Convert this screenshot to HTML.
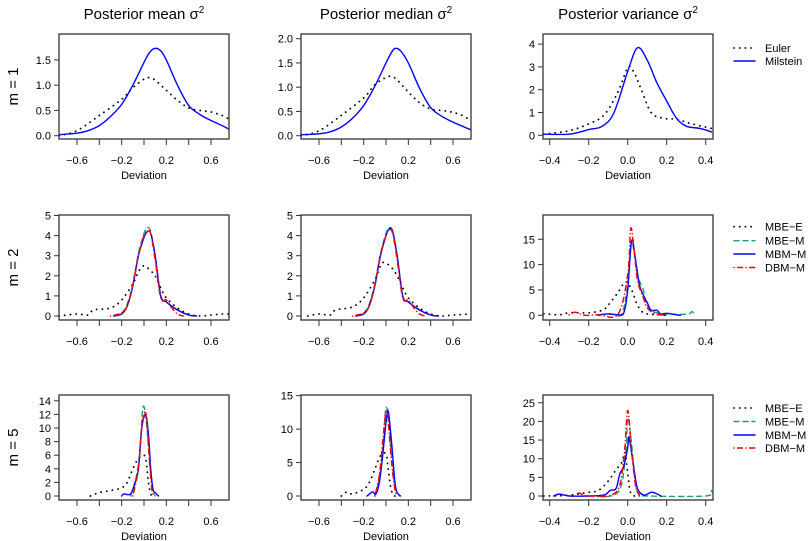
<!DOCTYPE html>
<html><head><meta charset="utf-8">
<style>
html,body{margin:0;padding:0;background:#fff;}
svg{display:block;font-family:"Liberation Sans",Arial,sans-serif;}
</style></head>
<body>
<svg id="chart" width="810" height="541" viewBox="0 0 810 541" xmlns="http://www.w3.org/2000/svg">
<defs>
<clipPath id="c0"><rect x="59" y="34" width="170" height="105"/></clipPath>
<clipPath id="c1"><rect x="301" y="34" width="170" height="105"/></clipPath>
<clipPath id="c2"><rect x="543" y="34" width="170" height="105"/></clipPath>
<clipPath id="c3"><rect x="59" y="215" width="170" height="105"/></clipPath>
<clipPath id="c4"><rect x="301" y="215" width="170" height="105"/></clipPath>
<clipPath id="c5"><rect x="543" y="215" width="170" height="105"/></clipPath>
<clipPath id="c6"><rect x="59" y="395" width="170" height="105"/></clipPath>
<clipPath id="c7"><rect x="301" y="395" width="170" height="105"/></clipPath>
<clipPath id="c8"><rect x="543" y="395" width="170" height="105"/></clipPath>
</defs>
</svg>
<script>
// ---- data ----
const columnTitles = ["Posterior mean σ", "Posterior median σ", "Posterior variance σ"];
const rowLabels = ["m = 1", "m = 2", "m = 5"];
const legend1 = ["Euler", "Milstein"];
const legend2 = ["MBE\u2212E", "MBE\u2212M", "MBM\u2212M", "DBM\u2212M"];
const xTicksWide = [-0.6, -0.4, -0.2, 0, 0.2, 0.4, 0.6];
const xLabelsWide = [-0.6, -0.2, 0.2, 0.6];
const xTicksNarrow = [-0.4, -0.2, 0, 0.2, 0.4];
const yTicks = [[0,0.5,1,1.5],[0,0.5,1,1.5,2],[0,1,2,3,4],[0,1,2,3,4,5],[0,1,2,3,4,5],[0,5,10,15],[0,2,4,6,8,10,12,14],[0,5,10,15],[0,5,10,15,20,25]];

// panel 0: mean m=1
const p0EulerX = [-0.76,-0.6,-0.4,-0.2,-0.1,0,0.05,0.1,0.2,0.3,0.4,0.5,0.6,0.7,0.76];
const p0EulerY = [0,0.1,0.4,0.72,0.95,1.12,1.15,1.1,0.9,0.7,0.55,0.5,0.47,0.4,0.33];
const p0MilX = [-0.76,-0.6,-0.5,-0.4,-0.3,-0.2,-0.1,0,0.05,0.1,0.15,0.2,0.3,0.4,0.5,0.6,0.7,0.76];
const p0MilY = [0.02,0.05,0.1,0.2,0.38,0.62,1.0,1.45,1.65,1.73,1.68,1.5,1.0,0.6,0.42,0.3,0.2,0.13];
// panel 1: median m=1
const p1EulerX = [-0.76,-0.6,-0.4,-0.2,-0.1,0,0.05,0.1,0.2,0.3,0.4,0.5,0.6,0.7,0.76];
const p1EulerY = [0,0.1,0.42,0.78,1.05,1.2,1.22,1.15,0.9,0.68,0.55,0.52,0.48,0.4,0.3];
const p1MilX = [-0.76,-0.6,-0.5,-0.4,-0.3,-0.2,-0.1,0,0.05,0.08,0.13,0.2,0.3,0.4,0.5,0.6,0.7,0.76];
const p1MilY = [0.02,0.04,0.08,0.18,0.36,0.62,1.02,1.5,1.72,1.8,1.75,1.5,0.98,0.58,0.4,0.28,0.18,0.12];
// panel 2: variance m=1
const p2EulerX = [-0.43,-0.3,-0.2,-0.12,-0.05,0,0.03,0.07,0.12,0.18,0.25,0.33,0.43];
const p2EulerY = [0.05,0.2,0.5,0.9,1.9,2.96,2.8,2.0,1.0,0.75,0.7,0.5,0.3];
const p2MilX = [-0.43,-0.3,-0.2,-0.13,-0.07,0,0.05,0.1,0.15,0.2,0.25,0.3,0.37,0.43];
const p2MilY = [0.05,0.05,0.25,0.4,1.0,2.8,3.84,3.3,2.3,1.5,0.75,0.4,0.3,0.15];
// panel 3: mean m=2
const p3MbeEX = [-0.76,-0.6,-0.5,-0.45,-0.3,-0.2,-0.1,-0.05,0,0.05,0.1,0.15,0.2,0.3,0.4,0.5,0.6,0.7,0.76];
const p3MbeEY = [0,0.1,0.05,0.3,0.4,0.8,1.6,2.2,2.5,2.3,2.0,1.4,0.9,0.4,0.1,0,0.05,0.1,0.1];
const p3MbeMX = [-0.27,-0.2,-0.15,-0.1,-0.05,0,0.03,0.06,0.1,0.15,0.2,0.3,0.4,0.47];
const p3MbeMY = [0,0.15,0.6,1.6,3.1,4.1,4.4,4.2,3.0,1.0,0.7,0.3,0.05,0];
const p3MbmMX = [-0.27,-0.2,-0.15,-0.1,-0.05,0,0.03,0.06,0.1,0.15,0.2,0.3,0.4,0.47];
const p3MbmMY = [0,0.1,0.5,1.5,3.0,3.9,4.2,4.1,3.0,1.0,0.7,0.3,0.05,0];
const p3DbmMX = [-0.3,-0.2,-0.15,-0.1,-0.05,0,0.03,0.06,0.1,0.15,0.2,0.25,0.3,0.35];
const p3DbmMY = [0,0.15,0.5,1.5,3.0,4.0,4.2,4.1,2.8,0.9,0.8,0.4,0.1,0];
// panel 4: median m=2
const p4MbeEX = [-0.7,-0.6,-0.5,-0.45,-0.3,-0.2,-0.1,-0.03,0.05,0.1,0.15,0.2,0.3,0.4,0.5,0.6,0.7,0.76];
const p4MbeEY = [0,0.1,0.05,0.3,0.45,0.9,1.8,2.65,2.4,2.0,1.4,0.9,0.4,0.1,0,0.05,0.08,0.1];
const p4MbeMX = [-0.27,-0.2,-0.15,-0.1,-0.05,0,0.03,0.06,0.1,0.15,0.2,0.3,0.4,0.47];
const p4MbeMY = [0,0.15,0.6,1.6,3.1,4.1,4.4,4.2,3.0,1.0,0.7,0.3,0.05,0];
const p4MbmMX = [-0.27,-0.2,-0.15,-0.1,-0.05,0,0.03,0.06,0.1,0.15,0.2,0.3,0.4,0.47];
const p4MbmMY = [0,0.1,0.5,1.5,3.0,4.0,4.35,4.2,3.0,1.0,0.7,0.3,0.05,0];
const p4DbmMX = [-0.3,-0.2,-0.15,-0.1,-0.05,0,0.03,0.06,0.1,0.15,0.2,0.25,0.3,0.35];
const p4DbmMY = [0,0.15,0.5,1.5,3.0,4.0,4.3,4.1,2.8,0.9,0.8,0.4,0.1,0];
// panel 5: variance m=2
const p5MbeEX = [-0.43,-0.35,-0.3,-0.2,-0.13,-0.1,-0.05,-0.01,0.02,0.05,0.08,0.12,0.2];
const p5MbeEY = [0.3,0.1,0.5,0.5,1.0,2,4.5,6.6,5,2,0.5,0.2,0];
const p5MbeMX = [-0.14,-0.08,-0.03,0,0.02,0.05,0.08,0.1,0.15,0.3,0.33,0.35];
const p5MbeMY = [0.2,0.2,0.3,6,14.5,8,5,2,0.5,0.2,0.7,0];
const p5MbmMX = [-0.15,-0.1,-0.05,-0.02,0,0.02,0.04,0.06,0.08,0.1,0.12,0.15,0.17,0.2,0.25,0.27];
const p5MbmMY = [0,0.3,0.1,0.5,5,14.7,11,6,4,2.5,1,1,0.2,0.4,0.1,0];
const p5DbmMX = [-0.3,-0.27,-0.22,-0.15,-0.05,0,0.015,0.03,0.05,0.08,0.1,0.14,0.2];
const p5DbmMY = [0.1,0.6,0,0.1,0.2,8,17,14,7,3.5,1.5,0.3,0];
// panel 6: mean m=5
const p6MbeEX = [-0.48,-0.4,-0.3,-0.2,-0.15,-0.1,-0.05,0,0.02,0.04,0.06,0.08];
const p6MbeEY = [0,0.5,0.8,1.2,2,4,5.5,6,5,2,0.3,0];
const p6MbeMX = [-0.12,-0.08,-0.04,-0.01,0.02,0.05,0.08,0.1];
const p6MbeMY = [0,2,6,13,11,5,1,0];
const p6MbmMX = [-0.2,-0.18,-0.12,-0.08,-0.05,-0.02,0.015,0.04,0.06,0.08,0.1,0.13];
const p6MbmMY = [0,0.3,0.3,2,4,10,12,9,4,1,0.5,0];
const p6DbmMX = [-0.1,-0.05,-0.02,0.01,0.03,0.05,0.07,0.09];
const p6DbmMY = [0,4,10,12.5,10,5,1,0];
// panel 7: median m=5
const p7MbeEX = [-0.4,-0.35,-0.3,-0.2,-0.15,-0.1,-0.05,0,0.02,0.04,0.06,0.08];
const p7MbeEY = [0,0.6,0.3,1.0,2,4,6,6.3,4,1.5,0.3,0];
const p7MbeMX = [-0.1,-0.07,-0.03,0,0.03,0.06,0.09,0.12];
const p7MbeMY = [0,2,7,13.2,10,4,1,0];
const p7MbmMX = [-0.17,-0.12,-0.09,-0.06,-0.03,0,0.02,0.05,0.08,0.1,0.13];
const p7MbmMY = [0,0.6,0.3,2,6,11,12.7,8,2,0.5,0];
const p7DbmMX = [-0.1,-0.06,-0.03,0,0.02,0.05,0.08,0.1];
const p7DbmMY = [0,3,8,12.6,11,5,1,0];
// panel 8: variance m=5
const p8MbeEX = [-0.43,-0.3,-0.2,-0.15,-0.1,-0.06,-0.03,-0.014,0,0.01,0.02,0.04];
const p8MbeEY = [0,0.2,1,1.5,4,7,9,11.6,6,2,0.3,0];
const p8MbeMX = [-0.2,-0.05,-0.01,0,0.02,0.04,0.06,0.1,0.4,0.43];
const p8MbeMY = [0,1,12,21,14,3,0.5,0,0,1.5];
const p8MbmMX = [-0.38,-0.35,-0.3,-0.2,-0.12,-0.09,-0.06,-0.04,-0.02,0,0.007,0.03,0.05,0.08,0.1,0.12,0.14,0.16,0.17];
const p8MbmMY = [0,0.5,0,0,0.3,1.5,2,6,8,13,15.7,8,2,0.3,0.5,1.0,0.8,0.3,0];
const p8DbmMX = [-0.27,-0.25,-0.2,-0.06,-0.02,0,0.02,0.04,0.06];
const p8DbmMY = [0,0.8,0,1,10,22.9,12,3,0];

// ---- layout ----
const svg = document.getElementById('chart');
const NS = 'http://www.w3.org/2000/svg';
const colLeft = [59, 301, 543], rowTop = [34, 215, 395];
const W = 170, H = 105;
const panelY0 = [135.7,135.7,135.3,316,316,315.3,496,496,496];
const panelPPU = [50.5,48.5,22.8,20.1,20.1,5.07,6.8,6.69,3.73];
const COLORS = {k:'#000', g:'#1f9e74', b:'#0000ff', r:'#ff0000'};
const DASH = {k:'0.1 5.6', g:'5 4', b:'', r:'0.1 3.5 5 3.5'};
const WIDTH = {k:1.8, g:1.4, b:1.4, r:1.5};

function el(tag, attrs, parent) {
  const e = document.createElementNS(NS, tag);
  for (const k in attrs) e.setAttribute(k, attrs[k]);
  (parent || svg).appendChild(e);
  return e;
}
function fmt(v) { return (v < 0 ? '\u2212' : '') + Math.abs(v).toFixed(1); }
function smoothPath(pts) {
  let d = 'M' + pts[0][0].toFixed(2) + ',' + pts[0][1].toFixed(2);
  for (let i = 0; i < pts.length - 1; i++) {
    const p0 = pts[Math.max(0, i - 1)], p1 = pts[i], p2 = pts[i + 1], p3 = pts[Math.min(pts.length - 1, i + 2)];
    const c1x = p1[0] + (p2[0] - p0[0]) / 6, c1y = p1[1] + (p2[1] - p0[1]) / 6;
    const c2x = p2[0] - (p3[0] - p1[0]) / 6, c2y = p2[1] - (p3[1] - p1[1]) / 6;
    d += 'C' + c1x.toFixed(2) + ',' + c1y.toFixed(2) + ' ' + c2x.toFixed(2) + ',' + c2y.toFixed(2) + ' ' + p2[0].toFixed(2) + ',' + p2[1].toFixed(2);
  }
  return d;
}

const seriesByPanel = [
  [[p0EulerX,p0EulerY,'k','euler'],[p0MilX,p0MilY,'b','milstein']],
  [[p1EulerX,p1EulerY,'k','euler'],[p1MilX,p1MilY,'b','milstein']],
  [[p2EulerX,p2EulerY,'k','euler'],[p2MilX,p2MilY,'b','milstein']],
  [[p3MbeEX,p3MbeEY,'k','mbe-e'],[p3MbeMX,p3MbeMY,'g','mbe-m'],[p3MbmMX,p3MbmMY,'b','mbm-m'],[p3DbmMX,p3DbmMY,'r','dbm-m']],
  [[p4MbeEX,p4MbeEY,'k','mbe-e'],[p4MbeMX,p4MbeMY,'g','mbe-m'],[p4MbmMX,p4MbmMY,'b','mbm-m'],[p4DbmMX,p4DbmMY,'r','dbm-m']],
  [[p5MbeEX,p5MbeEY,'k','mbe-e'],[p5MbeMX,p5MbeMY,'g','mbe-m'],[p5MbmMX,p5MbmMY,'b','mbm-m'],[p5DbmMX,p5DbmMY,'r','dbm-m']],
  [[p6MbeEX,p6MbeEY,'k','mbe-e'],[p6MbeMX,p6MbeMY,'g','mbe-m'],[p6MbmMX,p6MbmMY,'b','mbm-m'],[p6DbmMX,p6DbmMY,'r','dbm-m']],
  [[p7MbeEX,p7MbeEY,'k','mbe-e'],[p7MbeMX,p7MbeMY,'g','mbe-m'],[p7MbmMX,p7MbmMY,'b','mbm-m'],[p7DbmMX,p7DbmMY,'r','dbm-m']],
  [[p8MbeEX,p8MbeEY,'k','mbe-e'],[p8MbeMX,p8MbeMY,'g','mbe-m'],[p8MbmMX,p8MbmMY,'b','mbm-m'],[p8DbmMX,p8DbmMY,'r','dbm-m']]
];

columnTitles.forEach((t, c) => {
  const tx = el('text', {x: colLeft[c] + W / 2, y: 19, 'text-anchor': 'middle', 'font-size': 15, fill: '#000'});
  
  
  tx.appendChild(document.createTextNode(t));
  const sup = el('tspan', {dy: -6, 'font-size': 10}, tx);
  sup.textContent = '2';
});
rowLabels.forEach((t, r) => {
  const cy = rowTop[r] + H / 2;
  const tx = el('text', {x: 14, y: cy, 'text-anchor': 'middle', 'font-size': 15, fill: '#000', transform: 'rotate(-90 14 ' + cy + ')', 'dominant-baseline': 'middle'});
  
  
  tx.textContent = t;
});

for (let p = 0; p < 9; p++) {
  const r = Math.floor(p / 3), c = p % 3;
  const L = colLeft[c], T = rowTop[r];
  const narrow = c === 2;
  const x0 = narrow ? L + 84.7 : L + 85, xppu = narrow ? 195 : 111.7;
  const X = v => x0 + v * xppu;
  const Y = v => panelY0[p] - v * panelPPU[p];
  const g = el('g', {});
  
  
  const sg = el('g', {'clip-path': 'url(#c' + p + ')'}, g);
  seriesByPanel[p].forEach(s => {
    const pts = s[0].map((xv, i) => [X(xv), Y(s[1][i])]);
    const path = el('path', {d: smoothPath(pts), fill: 'none', stroke: COLORS[s[2]], 'stroke-width': WIDTH[s[2]], 'stroke-dasharray': DASH[s[2]], 'stroke-linecap': 'round'}, sg);
    
    
  });
  const box = el('rect', {x: L, y: T, width: W, height: H, fill: 'none', stroke: '#333', 'stroke-width': 1.3}, g);
  
  
  const xt = narrow ? xTicksNarrow : xTicksWide;
  const xl = narrow ? xTicksNarrow : xLabelsWide;
  const xa = el('g', {}, g);
  
  
  xt.forEach(v => el('line', {x1: X(v), x2: X(v), y1: T + H, y2: T + H + 6, stroke: '#333', 'stroke-width': 1}, xa));
  xl.forEach(v => {
    const t = el('text', {x: X(v), y: T + H + 25, 'text-anchor': 'middle', 'font-size': 11, fill: '#000'}, xa);
    
    
    t.textContent = fmt(v);
  });
  if (r !== 1) {
    const t = el('text', {x: L + W / 2, y: T + H + 40, 'text-anchor': 'middle', 'font-size': 11, fill: '#000'}, g);
    
    
    t.textContent = 'Deviation';
  }
  const ya = el('g', {}, g);
  
  
  yTicks[p].forEach(v => {
    el('line', {x1: L - 5, x2: L, y1: Y(v), y2: Y(v), stroke: '#333', 'stroke-width': 1}, ya);
    const t = el('text', {x: L - 8, y: Y(v) + 4, 'text-anchor': 'end', 'font-size': 11, fill: '#000'}, ya);
    
    
    t.textContent = (p < 2) ? v.toFixed(1) : String(v);
  });
}

function legend(labels, keys, ys, name) {
  const g = el('g', {});
  
  
  labels.forEach((lab, i) => {
    const k = keys[i];
    const ln = el('line', {x1: 734, x2: 755, y1: ys[i], y2: ys[i], stroke: COLORS[k], 'stroke-width': WIDTH[k], 'stroke-dasharray': DASH[k], 'stroke-linecap': 'round'}, g);
    
    
    const t = el('text', {x: 765, y: ys[i] + 4, 'font-size': 11, fill: '#000'}, g);
    
    
    t.textContent = lab;
  });
}
legend(legend1, ['k','b'], [48, 61], 'legend-row-1');
legend(legend2, ['k','g','b','r'], [226.7, 240.7, 254, 267.5], 'legend-row-2');
legend(legend2, ['k','g','b','r'], [408, 421.5, 435, 448], 'legend-row-3');
</script>
</body></html>
